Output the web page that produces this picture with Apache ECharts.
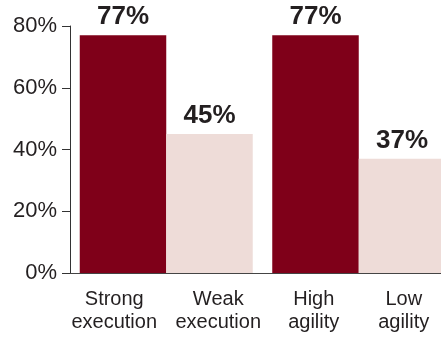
<!DOCTYPE html>
<html>
<head>
<meta charset="utf-8">
<script src="https://cdn.jsdelivr.net/npm/echarts@6/dist/echarts.min.js"></script>
<style>
  html, body { margin: 0; padding: 0; background: #fff; }
  #chart { width: 441px; height: 339px; }
</style>
</head>
<body>
<div id="chart"></div>
<script>
// Two groups, each with a paired "strong/high" and "weak/low" bar
const groups = ['execution', 'agility'];
const pairLabels = [
  ['Strong\nexecution', 'Weak\nexecution'],
  ['High\nagility', 'Low\nagility']
];
const strongValues = [77, 77];
const weakValues = [45, 37];
const yTicks = { min: 0, max: 80, step: 20 };

const DARK = '#7f0019';
const LIGHT = '#eedcd8';
const INK = '#231f20';
const FONT = '"Liberation Sans", Arial, sans-serif';
const BAR_W = 86.5;
// label column width per group (the text columns sit a little wider than the bars)
const COL_W = [104, 90];

const chart = echarts.init(document.getElementById('chart'), null, { renderer: 'canvas' });

function groupLabel(value, idx) {
  const [left, right] = pairLabels[idx].map(s => s.split('\n'));
  const lines = [];
  for (let i = 0; i < Math.max(left.length, right.length); i++) {
    lines.push('{l' + idx + '|' + (left[i] || '') + '}{r' + idx + '|' + (right[i] || '') + '}');
  }
  return lines.join('\n');
}

const rich = {};
COL_W.forEach((w, i) => {
  const st = { width: w, align: 'center', fontFamily: FONT, fontSize: 20, lineHeight: 23, color: INK };
  rich['l' + i] = st;
  rich['r' + i] = st;
});

const valueLabel = {
  show: true,
  position: 'top',
  distance: 5,
  formatter: '{c}%',
  fontFamily: FONT,
  fontWeight: 'bold',
  fontSize: 26,
  color: INK
};

chart.setOption({
  animation: false,
  // the right-hand pair runs to (and slightly past) the canvas edge
  grid: { left: 70, top: 26, bottom: 66, width: 385, outerBoundsMode: 'none', containLabel: false },
  xAxis: {
    type: 'category',
    data: groups,
    axisLine: { show: true, lineStyle: { color: '#444', width: 1 } },
    axisTick: { show: false },
    axisLabel: {
      interval: 0,
      margin: 15,
      formatter: groupLabel,
      rich: rich
    }
  },
  yAxis: {
    type: 'value',
    min: yTicks.min,
    max: yTicks.max,
    interval: yTicks.step,
    axisLine: { show: true, lineStyle: { color: '#333', width: 1 } },
    axisTick: { show: true, inside: false, length: 8, lineStyle: { color: '#333', width: 1 } },
    splitLine: { show: false },
    axisLabel: {
      formatter: '{value}%',
      margin: 13,
      fontFamily: FONT,
      fontSize: 22,
      color: INK
    }
  },
  series: [
    {
      type: 'bar',
      data: strongValues,
      barWidth: BAR_W,
      barGap: '0%',
      itemStyle: { color: DARK },
      label: valueLabel
    },
    {
      type: 'bar',
      data: weakValues,
      barWidth: BAR_W,
      barGap: '0%',
      itemStyle: { color: LIGHT },
      label: valueLabel
    }
  ]
});
</script>
</body>
</html>
